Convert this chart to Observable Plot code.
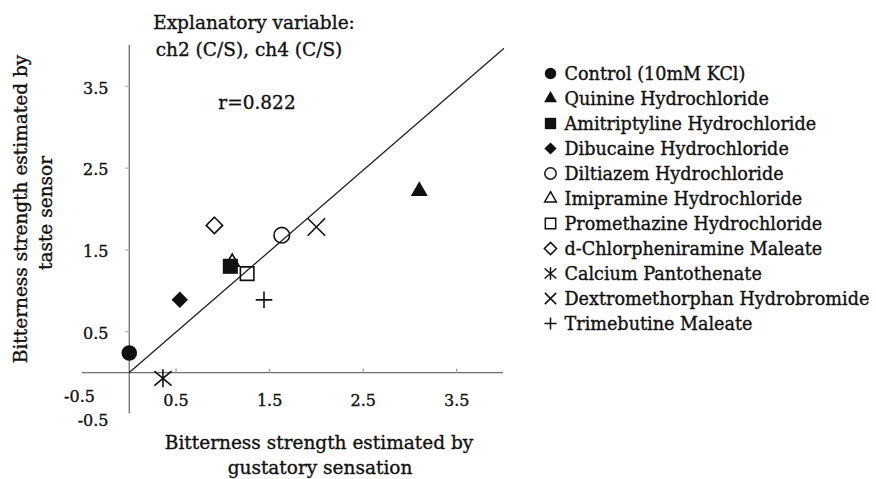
<!DOCTYPE html>
<html><head><meta charset="utf-8">
<script src="https://cdn.jsdelivr.net/npm/d3@7"></script>
<script src="https://cdn.jsdelivr.net/npm/@observablehq/plot@0.6"></script>
<style>
body{margin:0;background:#fff;}
#wrap{position:relative;width:876px;height:479px;font-family:"DejaVu Serif",serif;color:#111;overflow:hidden;}
#wrap svg{position:absolute;}
#wrap svg text{stroke:#111;stroke-width:0.35px;}
.lbl{position:absolute;white-space:nowrap;transform:translate(-50%,-50%);line-height:1;-webkit-text-stroke:0.35px #111;}
.rot{transform:translate(-50%,-50%) rotate(-90deg);}
</style></head><body><div id="wrap"></div>
<script>
// ---- data ----
const names = ["Control (10mM KCl)","Quinine Hydrochloride","Amitriptyline Hydrochloride","Dibucaine Hydrochloride","Diltiazem Hydrochloride","Imipramine Hydrochloride","Promethazine Hydrochloride","d-Chlorpheniramine Maleate","Calcium Pantothenate","Dextromethorphan Hydrobromide","Trimebutine Maleate"];
const gustatory = [0.0, 3.10, 1.08, 0.54, 1.63, 1.10, 1.26, 0.91, 0.36, 2.00, 1.44];
const sensor    = [0.24, 2.22, 1.30, 0.89, 1.68, 1.35, 1.21, 1.80, -0.07, 1.78, 0.89];
const symbolKinds = ["circle","triangle","square","diamond2","circle","triangle2","square2","diamond2","asterisk","times","plus"];
const filledFlags = [true,true,true,true,false,false,false,false,false,false,false];
const xTickValues = [0.5, 1.5, 2.5, 3.5];
const yTickValues = [0.5, 1.5, 2.5, 3.5];
const minTickValue = -0.5;
const fitLineX = [0, 4];
const fitLineY = [0, 3.96];
const titleLines = ["Explanatory variable:", "ch2 (C/S), ch4 (C/S)"];
const rText = "r=0.822";
const xTitleLines = ["Bitterness strength estimated by", "gustatory sensation"];
const yTitleLines = ["Bitterness strength estimated by", "taste sensor"];

// ---- styles ----
const INK = "#111", AXIS = "#6e6e6e";
const asteriskSym = {draw(ctx, size){ const R = Math.sqrt(size/Math.PI);
  ctx.moveTo(0,-R); ctx.lineTo(0,R);
  ctx.moveTo(-0.95*R,-0.8*R); ctx.lineTo(0.95*R,0.8*R);
  ctx.moveTo(-0.95*R,0.8*R); ctx.lineTo(0.95*R,-0.8*R);}};
const tickUp = {draw(ctx){ctx.moveTo(0,0);ctx.lineTo(0,-4);}};
const tickLeft = {draw(ctx){ctx.moveTo(0,0);ctx.lineTo(-4,0);}};
const mainR = {circle:7.8, triangle:6.3, square:8.5, diamond2:7.4, triangle2:6.8, square2:8.6, asterisk:9, times:8, plus:5.4};
const legR  = {circle:5.7, triangle:4.8, square:6.4, diamond2:5.5, triangle2:5.6, square2:6.6, asterisk:6.2, times:5.2, plus:4};
const symOf = k => k === "asterisk" ? asteriskSym : k;
const isLine = k => ["asterisk","times","plus"].includes(k);

const points = names.map((n,i)=>({name:n, x:gustatory[i], y:sensor[i], kind:symbolKinds[i], filled:filledFlags[i]}));
// draw Imipramine under Amitriptyline
const drawOrder = [5,0,1,2,3,4,6,7,8,9,10].map(i=>points[i]);
const fit = fitLineX.map((x,i)=>({x, y:fitLineY[i]}));

function pointMark(d, rMap, extra, sw){
  return Plot.dot([d], {x:"x", y:"y", ...extra, symbol: symOf(d.kind), r: rMap[d.kind],
    fill: d.filled ? INK : "none", stroke: (isLine(d.kind) || !d.filled) ? INK : "none", strokeWidth: sw});
}

const TICKFONT = 16;
const main = Plot.plot({
  width:876, height:479, marginLeft:82, marginRight:373, marginTop:45, marginBottom:66,
  x:{domain:[-0.5,4], axis:null}, y:{domain:[-0.5,4], axis:null},
  style:{fontFamily:"DejaVu Serif", fontSize:TICKFONT+"px", color:INK, background:"transparent"},
  marks:[
    Plot.ruleY([0], {stroke:AXIS, strokeWidth:1.3}),
    Plot.ruleX([0], {stroke:AXIS, strokeWidth:1.3}),
    Plot.dot(xTickValues, {x:d=>d, y:()=>0, symbol:tickUp, stroke:"#aaa", fill:"none"}),
    Plot.dot(yTickValues, {x:()=>0, y:d=>d, symbol:tickLeft, stroke:"#bbb", fill:"none"}),
    Plot.text(xTickValues, {x:d=>d, frameAnchor:"bottom", dy:-8, text:d=>String(d), fill:INK, fontSize:TICKFONT}),
    Plot.text([minTickValue], {x:d=>d, frameAnchor:"bottom", dx:-3, dy:-12, text:d=>String(d), fill:INK, fontSize:TICKFONT}),
    Plot.text(yTickValues, {y:d=>d, frameAnchor:"left", dx:26, dy:2, textAnchor:"end", text:d=>String(d), fill:INK, fontSize:TICKFONT}),
    Plot.text([minTickValue], {y:d=>d, frameAnchor:"left", dx:26, dy:7, textAnchor:"end", text:d=>String(d), fill:INK, fontSize:TICKFONT}),
    Plot.line(fit, {x:"x", y:"y", stroke:"#222", strokeWidth:1.3}),
    ...drawOrder.map(d=>pointMark(d, mainR, {}, 1.6))
  ]
});
main.style.left="0px"; main.style.top="0px";
const wrap = document.getElementById("wrap");
wrap.appendChild(main);

const LEGFONT = 17.6;
const legend = Plot.plot({
  width:336, height:479, marginLeft:10, marginRight:0, marginTop:0, marginBottom:0,
  x:{domain:[0,1], axis:null},
  y:{type:"point", domain:names, range:[57,338], axis:null},
  style:{fontFamily:"DejaVu Serif", fontSize:LEGFONT+"px", color:INK, background:"transparent"},
  marks:[
    ...points.map(d=>pointMark(d, legR, {x:null, y:"name", frameAnchor:"left"}, 1.5)),
    Plot.text(points, {y:"name", frameAnchor:"left", dx:14, dy:1, textAnchor:"start", text:"name", fill:INK, fontSize:LEGFONT})
  ]
});
legend.style.left="540px"; legend.style.top="0px";
wrap.appendChild(legend);

function label(text, x, y, size, rot){
  const el = document.createElement("div");
  el.className = "lbl" + (rot ? " rot" : "");
  el.textContent = text; el.style.left = x+"px"; el.style.top = y+"px"; el.style.fontSize = size+"px";
  wrap.appendChild(el);
}
label(titleLines[0], 254, 23, 18.5, false);
label(titleLines[1], 249, 50, 18.5, false);
label(rText, 257, 103, 18.5, false);
label(xTitleLines[0], 319, 443, 18.5, false);
label(xTitleLines[1], 320, 468, 18.5, false);
label(yTitleLines[0], 21, 209, 18.5, true);
label(yTitleLines[1], 46, 213, 18.5, true);
</script></body></html>
